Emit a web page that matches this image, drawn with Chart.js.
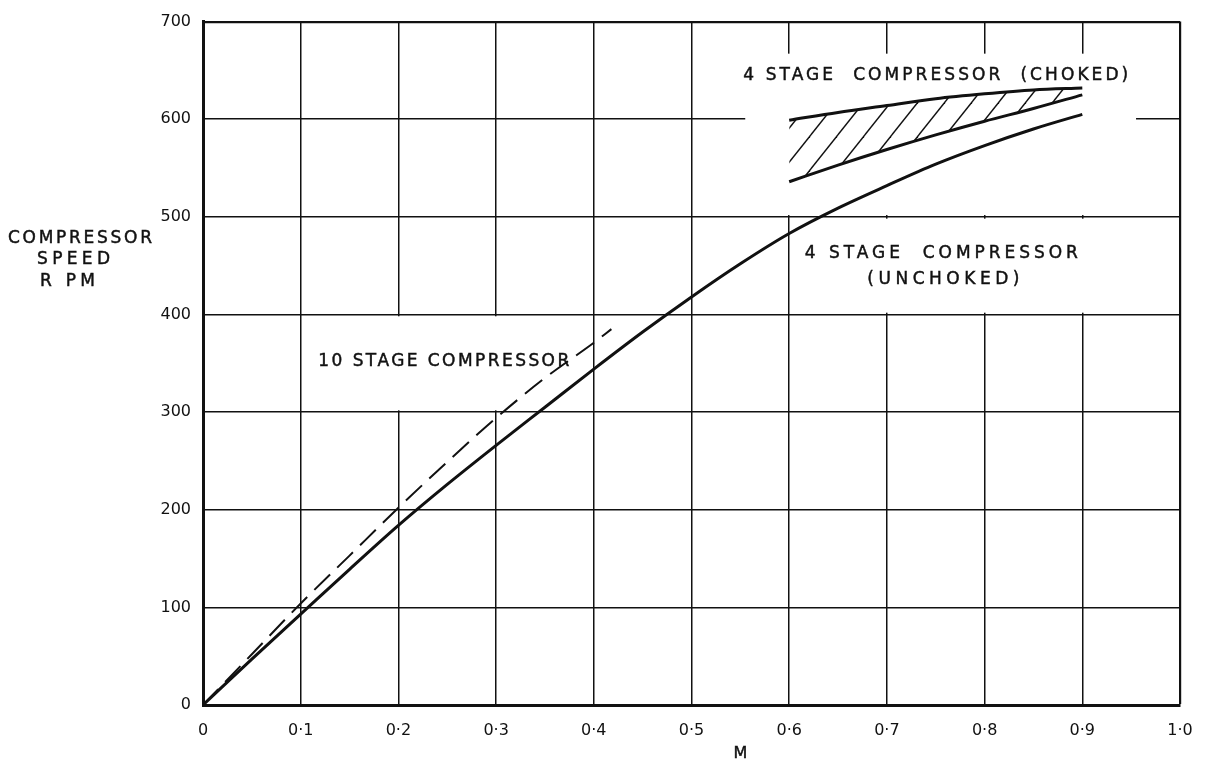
<!DOCTYPE html>
<html>
<head>
<meta charset="utf-8">
<script src="https://cdn.jsdelivr.net/npm/chart.js@4.4.1/dist/chart.umd.min.js"></script>
<style>
  html, body { margin: 0; padding: 0; background: #ffffff; }
  #wrap { width: 1212px; height: 763px; position: relative; }
  canvas { display: block; }
</style>
</head>
<body>
<div id="wrap"><canvas id="chart" width="1212" height="763"></canvas></div>
<script>
// Compressor speed (RPM) against flight Mach number M

// 4 stage compressor, unchoked
const machUnchoked  = [0, 0.05, 0.1, 0.15, 0.2, 0.25, 0.3, 0.35, 0.4, 0.45, 0.5, 0.55, 0.6, 0.65, 0.7, 0.75, 0.8, 0.85, 0.9];
const speedUnchoked = [0, 47, 93, 139, 184, 226, 266, 305, 344, 382, 418, 452, 483, 509, 532, 554, 573, 590, 605];

// 10 stage compressor (dashed)
const machTenStage  = [0, 0.05, 0.1, 0.15, 0.2, 0.25, 0.3, 0.35, 0.4, 0.418];
const speedTenStage = [0, 52, 104, 153, 202, 249, 294, 335, 371, 385];

// 4 stage compressor, choked band (upper and lower bounds)
const machChoked       = [0.6, 0.65, 0.7, 0.75, 0.8, 0.85, 0.9];
const speedChokedUpper = [599, 607, 614, 621, 626, 630, 632];
const speedChokedLower = [536, 553, 569, 584, 598, 611, 625];

// Axis ticks
const machTicks       = [0, 0.1, 0.2, 0.3, 0.4, 0.5, 0.6, 0.7, 0.8, 0.9, 1.0];
const machTickLabels  = ['0', '0·1', '0·2', '0·3', '0·4', '0·5', '0·6', '0·7', '0·8', '0·9', '1·0'];
const speedTicks      = [0, 100, 200, 300, 400, 500, 600, 700];
const speedTickLabels = ['0', '100', '200', '300', '400', '500', '600', '700'];

const INK = '#111111';
const FONT = '"DejaVu Sans", "Liberation Sans", sans-serif';

function points(xs, ys) {
  return xs.map((x, i) => ({ x: x, y: ys[i] }));
}

// Diagonal hatching used inside the choked band
function hatchPattern() {
  const w = 27, h = 34;
  const c = document.createElement('canvas');
  c.width = w; c.height = h;
  const g = c.getContext('2d');
  g.strokeStyle = INK;
  g.lineWidth = 1.4;
  for (const off of [-w, 0, w]) {
    g.beginPath();
    g.moveTo(off - w * 0.5, h * 1.5);
    g.lineTo(off + w * 1.5, -h * 0.5);
    g.stroke();
  }
  return g.createPattern(c, 'repeat');
}

// Places where the ruled grid is left open around the lettering
const gridGaps = {
  vertical: [
    [0.2, 300, 400], [0.3, 300, 400],
    [0.6, 500, 669],
    [0.7, 400, 500], [0.7, 500, 669],
    [0.8, 400, 500], [0.8, 500, 669],
    [0.9, 400, 500], [0.9, 500, 669]
  ],
  horizontal: [
    [600, 0.555, 0.955]
  ]
};

const gridGapPlugin = {
  id: 'gridGaps',
  beforeDatasetsDraw(chart) {
    const { ctx } = chart;
    const xs = chart.scales.x, ys = chart.scales.y;
    ctx.save();
    ctx.fillStyle = '#ffffff';
    for (const [m, a, b] of gridGaps.vertical) {
      const px = xs.getPixelForValue(m);
      const top = ys.getPixelForValue(b) + 1.8;
      const bot = ys.getPixelForValue(a) - 1.8;
      ctx.fillRect(px - 2.5, top, 5, bot - top);
    }
    for (const [v, a, b] of gridGaps.horizontal) {
      const py = ys.getPixelForValue(v);
      const l = xs.getPixelForValue(a);
      const r = xs.getPixelForValue(b);
      ctx.fillRect(l, py - 2.5, r - l, 5);
    }
    ctx.restore();
  }
};

// Hand-lettered captions, stretched to their drawn widths
function letter(ctx, text, left, cy, width, size) {
  ctx.font = size + 'px ' + FONT;
  ctx.letterSpacing = '0px';
  const natural = ctx.measureText(text).width;
  const n = text.length;
  const spacing = n > 1 ? (width - natural) / (n - 1) : 0;
  ctx.letterSpacing = spacing.toFixed(2) + 'px';
  ctx.textAlign = 'left';
  ctx.textBaseline = 'middle';
  ctx.fillText(text, left, cy);
  ctx.lineWidth = 0.45;
  ctx.strokeStyle = INK;
  ctx.strokeText(text, left, cy);
}

const captionPlugin = {
  id: 'captions',
  afterDatasetsDraw(chart) {
    const { ctx } = chart;
    const xs = chart.scales.x, ys = chart.scales.y;
    const X = m => xs.getPixelForValue(m);
    const Y = v => ys.getPixelForValue(v);
    ctx.save();
    ctx.fillStyle = INK;
    // captions inside the plot, anchored in data units
    letter(ctx, '4 STAGE  COMPRESSOR  (CHOKED)', X(0.553), Y(645), 385, 17);
    letter(ctx, '4 STAGE  COMPRESSOR', X(0.616), Y(462), 273, 17);
    letter(ctx, '(UNCHOKED)', X(0.68), Y(436), 152, 17);
    letter(ctx, '10 STAGE COMPRESSOR', X(0.118), Y(352), 251, 17);
    // axis titles
    const yTitleLeft = chart.chartArea.left;
    letter(ctx, 'COMPRESSOR', yTitleLeft - 195, Y(478), 144, 17);
    letter(ctx, 'SPEED', yTitleLeft - 166, Y(456), 73, 17);
    letter(ctx, 'R PM', yTitleLeft - 163, Y(434), 55, 17);
    letter(ctx, 'M', X(0.543), chart.chartArea.bottom + 49, 15, 16);
    ctx.restore();
  }
};

const ctx = document.getElementById('chart').getContext('2d');

new Chart(ctx, {
  type: 'line',
  data: {
    datasets: [
      {
        label: '4 stage compressor (unchoked)',
        data: points(machUnchoked, speedUnchoked),
        borderColor: INK,
        borderWidth: 3,
        pointRadius: 0,
        cubicInterpolationMode: 'monotone',
        fill: false
      },
      {
        label: '10 stage compressor',
        data: points(machTenStage, speedTenStage),
        borderColor: INK,
        borderWidth: 2,
        borderDash: [22, 10],
        pointRadius: 0,
        cubicInterpolationMode: 'monotone',
        fill: false
      },
      {
        label: '4 stage compressor (choked) upper',
        data: points(machChoked, speedChokedUpper),
        borderColor: INK,
        borderWidth: 3,
        pointRadius: 0,
        cubicInterpolationMode: 'monotone',
        fill: false
      },
      {
        label: '4 stage compressor (choked) lower',
        data: points(machChoked, speedChokedLower),
        borderColor: INK,
        borderWidth: 3,
        pointRadius: 0,
        cubicInterpolationMode: 'monotone',
        backgroundColor: hatchPattern(),
        fill: '-1'
      }
    ]
  },
  options: {
    responsive: false,
    animation: false,
    devicePixelRatio: 1,
    layout: { padding: { left: 0, right: 32, top: 17, bottom: 0 } },
    plugins: {
      legend: { display: false },
      tooltip: { enabled: false },
      title: { display: false }
    },
    scales: {
      x: {
        type: 'linear',
        min: 0,
        max: 1,
        afterBuildTicks: s => { s.ticks = machTicks.map(v => ({ value: v })); },
        afterFit: s => { s.height = 58; },
        ticks: {
          color: INK,
          font: { family: FONT, size: 16 },
          padding: 16,
          maxRotation: 0,
          autoSkip: false,
          callback: (v, i) => machTickLabels[i]
        },
        grid: {
          color: INK,
          drawTicks: false,
          lineWidth: c => (c.tick && c.tick.value === 1) ? 2.2 : 1.5
        },
        border: { display: true, color: INK, width: 3 }
      },
      y: {
        type: 'linear',
        min: 0,
        max: 700,
        afterBuildTicks: s => { s.ticks = speedTicks.map(v => ({ value: v })); },
        afterFit: s => { s.width = 203; },
        ticks: {
          color: INK,
          font: { family: FONT, size: 16 },
          padding: 12,
          autoSkip: false,
          callback: (v, i) => speedTickLabels[i]
        },
        grid: {
          color: INK,
          drawTicks: false,
          lineWidth: c => (c.tick && c.tick.value === 700) ? 2.2 : 1.5
        },
        border: { display: true, color: INK, width: 3 }
      }
    }
  },
  plugins: [gridGapPlugin, captionPlugin]
});
</script>
</body>
</html>
